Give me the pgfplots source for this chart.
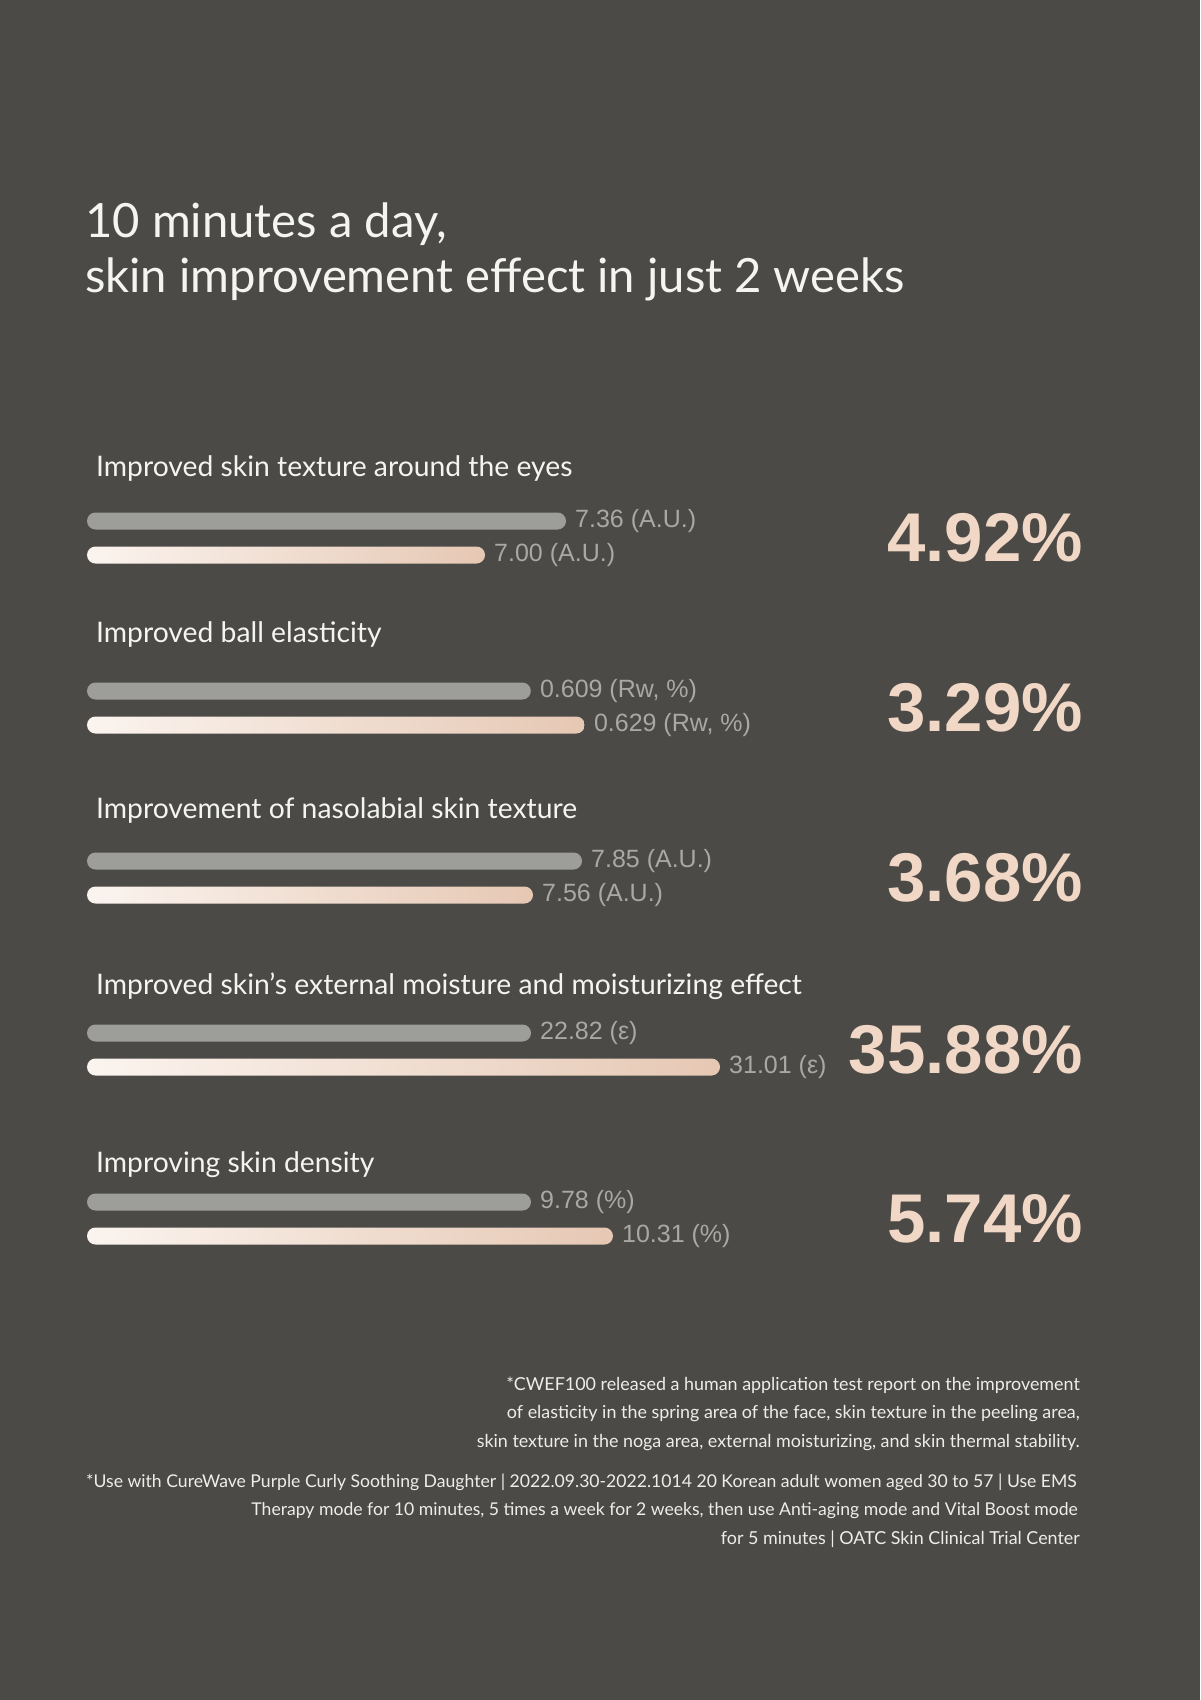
\documentclass[border=0pt]{standalone}
\usepackage{pgfplots}
\pgfplotsset{compat=1.18}
\usepackage{fontspec}
\setmainfont{Lato}
\newfontfamily\labfont{Liberation Sans}
\newfontfamily\pctfont{Liberation Sans}
\definecolor{bg}{HTML}{4B4A46}
\definecolor{barGray}{HTML}{9D9D99}
\definecolor{gradL}{HTML}{FBF4EF}
\definecolor{gradR}{HTML}{E6C8B4}
\definecolor{lbl}{HTML}{A8A8A4}
\definecolor{pct}{HTML}{F1D7C5}
\definecolor{txt}{HTML}{F4F4F2}
\definecolor{foot}{HTML}{EDEDEB}
\newcommand{\titlefont}{\fontsize{47.2}{55}\selectfont}
\newcommand{\grpfont}{\fontsize{28.3}{32}\selectfont}
\newcommand{\valfont}{\labfont\fontsize{25}{30}\selectfont}
\newcommand{\bigfont}{\pctfont\bfseries\fontsize{69}{70}\selectfont}
\newcommand{\footfont}{\fontsize{17.9}{20}\selectfont}
\newcommand{\footfontb}{\fontsize{17.6}{20}\selectfont}
\pgfplotsset{
  grp/.style={anchor=south west, scale only axis, width=700pt, height=34pt,
    ymin=0, ymax=1, hide axis, clip=false},
}
\tikzset{
  graybar/.style={draw=none, fill=barGray, rounded corners=8.5pt, mark=none},
  gradbar/.style={draw=none, left color=gradL, right color=gradR, rounded corners=8.5pt, mark=none},
  vlab/.style={anchor=west, text=lbl, font=\valfont, inner sep=0pt, xshift=9pt},
}
\begin{document}
\begin{tikzpicture}
\fill[bg] (0,0) rectangle (1200pt,-1700pt);
% main title
\node[anchor=base west, inner sep=0pt, text=txt, font=\titlefont] at (85pt,-237.5pt) {10 minutes a day,};
\node[anchor=base west, inner sep=0pt, text=txt, font=\titlefont] at (85pt,-292.5pt) {skin improvement effect in just 2 weeks};
% group titles
\node[anchor=base west, inner sep=0pt, text=txt, font=\grpfont] at (96pt,-476.7pt) {Improved skin texture around the eyes};
\node[anchor=base west, inner sep=0pt, text=txt, font=\grpfont] at (96pt,-642.7pt) {Improved ball elasticity};
\node[anchor=base west, inner sep=0pt, text=txt, font=\grpfont] at (96pt,-818.3pt) {Improvement of nasolabial skin texture};
\node[anchor=base west, inner sep=0pt, text=txt, font=\grpfont] at (96pt,-994pt) {Improved skin's external moisture and moisturizing effect};
\node[anchor=base west, inner sep=0pt, text=txt, font=\grpfont] at (96pt,-1172.8pt) {Improving skin density};

% Group 1
\begin{axis}[grp, at={(87pt,-555pt)}, xmin=5.231, xmax=8.342]
\addplot[graybar] coordinates {(5.231,0.75) (7.36,0.75) (7.36,1.25) (5.231,1.25)} -- cycle;
\addplot[gradbar] coordinates {(5.231,-0.25) (7.00,-0.25) (7.00,0.25) (5.231,0.25)} -- cycle;
\node[vlab] at (axis cs:7.36,1) {7.36 (A.U.)};
\node[vlab] at (axis cs:7.00,0) {7.00 (A.U.)};
\end{axis}
% Group 2
\begin{axis}[grp, at={(87pt,-725pt)}, xmin=0.4446, xmax=0.7039]
\addplot[graybar] coordinates {(0.4446,0.75) (0.609,0.75) (0.609,1.25) (0.4446,1.25)} -- cycle;
\addplot[gradbar] coordinates {(0.4446,-0.25) (0.629,-0.25) (0.629,0.25) (0.4446,0.25)} -- cycle;
\node[vlab] at (axis cs:0.609,1) {0.609 (Rw, \%)};
\node[vlab] at (axis cs:0.629,0) {0.629 (Rw, \%)};
\end{axis}
% Group 3
\begin{axis}[grp, at={(87pt,-895pt)}, xmin=4.9205, xmax=9.0632]
\addplot[graybar] coordinates {(4.9205,0.75) (7.85,0.75) (7.85,1.25) (4.9205,1.25)} -- cycle;
\addplot[gradbar] coordinates {(4.9205,-0.25) (7.56,-0.25) (7.56,0.25) (4.9205,0.25)} -- cycle;
\node[vlab] at (axis cs:7.85,1) {7.85 (A.U.)};
\node[vlab] at (axis cs:7.56,0) {7.56 (A.U.)};
\end{axis}
% Group 4
\begin{axis}[grp, at={(87pt,-1067pt)}, xmin=3.58, xmax=33.913]
\addplot[graybar] coordinates {(3.58,0.75) (22.82,0.75) (22.82,1.25) (3.58,1.25)} -- cycle;
\addplot[gradbar] coordinates {(3.58,-0.25) (31.01,-0.25) (31.01,0.25) (3.58,0.25)} -- cycle;
\node[vlab] at (axis cs:22.82,1) {22.82 (ε)};
\node[vlab] at (axis cs:31.01,0) {31.01 (ε)};
\end{axis}
% Group 5
\begin{axis}[grp, at={(87pt,-1236pt)}, xmin=6.91, xmax=11.435]
\addplot[graybar] coordinates {(6.91,0.75) (9.78,0.75) (9.78,1.25) (6.91,1.25)} -- cycle;
\addplot[gradbar] coordinates {(6.91,-0.25) (10.31,-0.25) (10.31,0.25) (6.91,0.25)} -- cycle;
\node[vlab] at (axis cs:9.78,1) {9.78 (\%)};
\node[vlab] at (axis cs:10.31,0) {10.31 (\%)};
\end{axis}

% percentages
\node[anchor=east, inner sep=0pt, text=pct, font=\bigfont] at (1083pt,-538pt) {4.92\%};
\node[anchor=east, inner sep=0pt, text=pct, font=\bigfont] at (1083pt,-708pt) {3.29\%};
\node[anchor=east, inner sep=0pt, text=pct, font=\bigfont] at (1083pt,-878pt) {3.68\%};
\node[anchor=east, inner sep=0pt, text=pct, font=\bigfont] at (1083pt,-1050pt) {35.88\%};
\node[anchor=east, inner sep=0pt, text=pct, font=\bigfont] at (1083pt,-1219pt) {5.74\%};

% footnotes
\node[anchor=base east, inner sep=0pt, text=foot, font=\footfont] at (1080pt,-1390pt) {*CWEF100 released a human application test report on the improvement};
\node[anchor=base east, inner sep=0pt, text=foot, font=\footfont] at (1080pt,-1418pt) {of elasticity in the spring area of the face, skin texture in the peeling area,};
\node[anchor=base east, inner sep=0pt, text=foot, font=\footfont] at (1080pt,-1447pt) {skin texture in the noga area, external moisturizing, and skin thermal stability.};
\node[anchor=base east, inner sep=0pt, text=foot, font=\footfontb] at (1077pt,-1487pt) {*Use with CureWave Purple Curly Soothing Daughter | 2022.09.30-2022.1014 20 Korean adult women aged 30 to 57 | Use EMS};
\node[anchor=base east, inner sep=0pt, text=foot, font=\footfontb] at (1078pt,-1515pt) {Therapy mode for 10 minutes, 5 times a week for 2 weeks, then use Anti-aging mode and Vital Boost mode};
\node[anchor=base east, inner sep=0pt, text=foot, font=\footfont] at (1080pt,-1544pt) {for 5 minutes | OATC Skin Clinical Trial Center};
\end{tikzpicture}
\end{document}
